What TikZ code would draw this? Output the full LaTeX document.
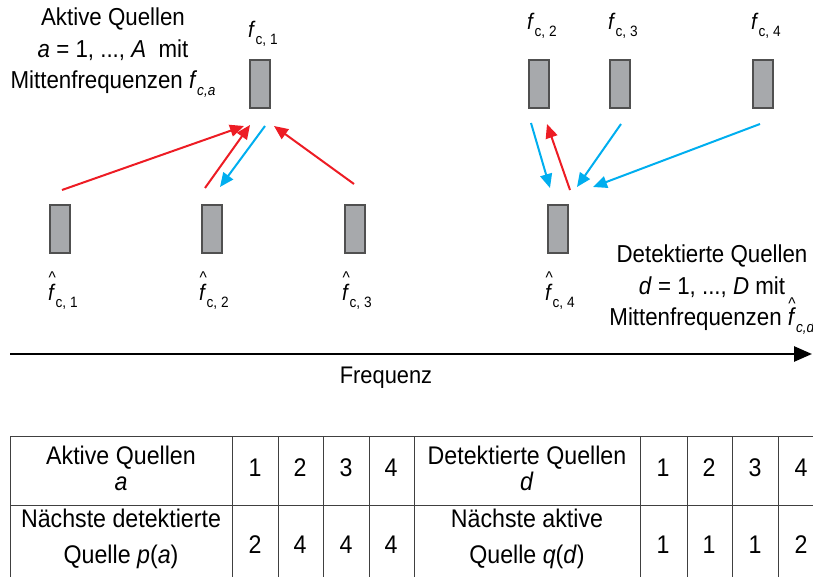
\documentclass[tikz,border=0pt]{standalone}
\usepackage{fontspec}
\setmainfont{Liberation Sans}
\usetikzlibrary{arrows.meta}
\definecolor{arred}{HTML}{ED1C24}
\definecolor{arblue}{HTML}{00AEEF}
\definecolor{barfill}{HTML}{A7A9AC}
\definecolor{bardraw}{HTML}{505050}
\definecolor{tabline}{HTML}{404040}
\newcommand\cond[1]{\scalebox{0.91}[1]{#1}}
\newcommand\fsub[1]{\textit{f}\raisebox{-7pt}{\fontsize{15}{15}\selectfont #1}}
\newcommand\fhatsub[1]{\rlap{\hspace{0.5pt}\raisebox{16.5pt}[0pt][0pt]{\fontsize{17}{17}\selectfont\textasciicircum}}\fsub{#1}}
\begin{document}
\begin{tikzpicture}[x=1pt,y=-1pt,
  bar/.style={draw=bardraw, fill=barfill, line width=1.2pt, minimum width=20pt, minimum height=48pt, inner sep=0pt},
  flab/.style={inner sep=0pt, anchor=base west, font=\fontsize{22.5}{22.5}\selectfont},
  txt/.style={inner sep=0pt, align=center, font=\fontsize{24.5}{31.5}\selectfont},
  tab/.style={inner sep=0pt, align=center, font=\fontsize{25.5}{26}\selectfont},
  tabnum/.style={inner sep=0pt, font=\fontsize{25.5}{26}\selectfont},
  redarr/.style={draw=arred, line width=2pt, -{Triangle[length=14pt,width=12pt]}},
  bluearr/.style={draw=arblue, line width=2pt, -{Triangle[length=14pt,width=12pt]}},
  tl/.style={draw=tabline, line width=1pt}
]
\useasboundingbox (0,0) rectangle (813,577);

% active sources
\node[bar] (a1) at (260,84) {};
\node[bar] (a2) at (539,84) {};
\node[bar] (a3) at (620,84) {};
\node[bar] (a4) at (763,84) {};
\node[flab] (la1) at (248,38) {\cond{\fsub{c, 1}}};
\node[flab] (la2) at (527,30) {\cond{\fsub{c, 2}}};
\node[flab] (la3) at (608,30) {\cond{\fsub{c, 3}}};
\node[flab] (la4) at (751,30) {\cond{\fsub{c, 4}}};

% detected sources
\node[bar] (d1) at (60,229) {};
\node[bar] (d2) at (212,229) {};
\node[bar] (d3) at (355,229) {};
\node[bar] (d4) at (558,229) {};
\node[flab] (ld1) at (48,300) {\cond{\fhatsub{c, 1}}};
\node[flab] (ld2) at (199,300) {\cond{\fhatsub{c, 2}}};
\node[flab] (ld3) at (342,300) {\cond{\fhatsub{c, 3}}};
\node[flab] (ld4) at (545,300) {\cond{\fhatsub{c, 4}}};

% texts
\node[txt] (ta) at (113,53) {\cond{Aktive Quellen}\\ \cond{\textit{a} = 1, ..., \textit{A}\ \ mit}\\ \cond{Mittenfrequenzen \fsub{\textit{c,a}}}};
\node[txt] (td) at (712,290) {\cond{Detektierte Quellen}\\ \cond{\textit{d} = 1, ..., \textit{D} mit}\\ \cond{Mittenfrequenzen \fhatsub{\textit{c,d}}}};

% arrow end points
\coordinate (r1s) at (62,190);  \coordinate (r1e) at (244,126);
\coordinate (r2s) at (205,188); \coordinate (r2e) at (250,125);
\coordinate (b1s) at (265,126); \coordinate (b1e) at (220,187);
\coordinate (r3s) at (354,184); \coordinate (r3e) at (274,126);
\coordinate (b2s) at (531,123); \coordinate (b2e) at (550,188);
\coordinate (r4s) at (570,190); \coordinate (r4e) at (547,124);
\coordinate (b3s) at (621,124); \coordinate (b3e) at (577,187);
\coordinate (b4s) at (760,124); \coordinate (b4e) at (593,187);
\draw[redarr] (r1s) -- (r1e);
\draw[redarr] (r2s) -- (r2e);
\draw[bluearr] (b1s) -- (b1e);
\draw[redarr] (r3s) -- (r3e);
\draw[bluearr] (b2s) -- (b2e);
\draw[redarr] (r4s) -- (r4e);
\draw[bluearr] (b3s) -- (b3e);
\draw[bluearr] (b4s) -- (b4e);

% frequency axis
\coordinate (ax0) at (10,354);
\coordinate (ax1) at (812,354);
\draw[line width=2.6pt, -{Triangle[length=18pt,width=15pt]}] (ax0) -- (ax1);
\node[inner sep=0pt, font=\fontsize{24}{24}\selectfont] (freq) at (386,378) {\cond{Frequenz}};

% table
\draw[tl] (10,436) -- (813,436);
\draw[tl] (10,505) -- (813,505);
\foreach \x in {10,232,278,323,369,414,640,687,732,778}
  \draw[tl] (\x,436) -- (\x,577);
\node[tab] (h1) at (121,468) {\cond{Aktive Quellen}\\ \cond{\textit{a}}};
\node[tab] (h2) at (527,468) {\cond{Detektierte Quellen}\\ \cond{\textit{d}}};
\node[tab, font=\fontsize{25.5}{36}\selectfont] (h3) at (121,539) {\cond{Nächste detektierte}\\ \cond{Quelle \textit{p}(\textit{a})}};
\node[tab, font=\fontsize{25.5}{36}\selectfont] (h4) at (527,539) {\cond{Nächste aktive}\\ \cond{Quelle \textit{q}(\textit{d})}};
\foreach \x/\v in {255/1,300/2,346/3,391/4,663/1,709/2,755/3,801/4}
  \node[tabnum] at (\x,468) {\cond{\v}};
\foreach \x/\v in {255/2,300/4,346/4,391/4,663/1,709/1,755/1,801/2}
  \node[tabnum] at (\x,545) {\cond{\v}};
\end{tikzpicture}
\end{document}
